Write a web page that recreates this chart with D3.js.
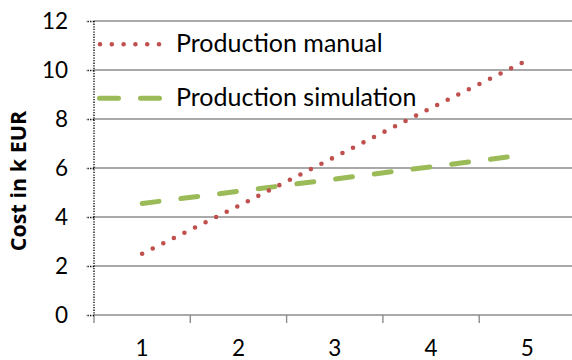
<!DOCTYPE html>
<html>
<head>
<meta charset="utf-8">
<script src="https://cdn.jsdelivr.net/npm/d3@7"></script>
<style>
  html, body { margin: 0; padding: 0; background: #fff; }
  svg { display: block; }
  text { font-family: Carlito, Calibri, Lato, sans-serif; fill: #000; }
</style>
</head>
<body>
<svg id="chart" width="572" height="360"></svg>
<script>
const categories = [1, 2, 3, 4, 5];
const manualValues = [2.5, 4.45, 6.45, 8.45, 10.4];
const simulationValues = [4.55, 5.05, 5.55, 6.05, 6.55];
const yTicks = [0, 2, 4, 6, 8, 10, 12];
const seriesNames = ["Production manual", "Production simulation"];
const yTitle = "Cost in k EUR";

(function () {
const svg = d3.select("#chart");
const mLeft = 94, mRight = 575.5, mTop = 21, mBottom = 315;
const tickFont = "Lato, sans-serif";

const x = d3.scaleBand().domain(categories).range([mLeft, mRight]);
const y = d3.scaleLinear().domain([0, 12]).range([mBottom, mTop]);

// gridlines
svg.append("g").selectAll("line").data(yTicks.filter(d => d > 0)).join("line")
  .attr("x1", mLeft).attr("x2", 572)
  .attr("y1", d => y(d)).attr("y2", d => y(d))
  .attr("stroke", "#8c8c8c").attr("stroke-width", 1.4);

// x axis
const xAxis = svg.append("g").attr("transform", `translate(0,${mBottom})`)
  .call(d3.axisBottom(x).tickSize(0).tickPadding(0));
xAxis.select(".domain").remove();
xAxis.selectAll(".tick text").attr("dy", null).attr("y", 41)
  .style("font-size", "22.5px").style("font-family", tickFont);
svg.append("line").attr("x1", mLeft).attr("x2", 572).attr("y1", mBottom).attr("y2", mBottom)
  .attr("stroke", "#8c8c8c").attr("stroke-width", 1.6);
const bounds = categories.map(c => x(c)).concat([x(categories[categories.length-1]) + x.bandwidth()]);
svg.append("g").selectAll("line").data(bounds).join("line")
  .attr("x1", d => d).attr("x2", d => d).attr("y1", mBottom).attr("y2", mBottom + 8)
  .attr("stroke", "#8c8c8c").attr("stroke-width", 1.4);

// y axis (dotted)
svg.append("line").attr("x1", mLeft).attr("x2", mLeft).attr("y1", mTop).attr("y2", mBottom)
  .attr("stroke", "#000").attr("stroke-width", 1.3).attr("stroke-dasharray", "1.3 1.3");
const yAxis = svg.append("g").attr("transform", `translate(${mLeft},0)`)
  .call(d3.axisLeft(y).tickValues(yTicks).tickSize(8).tickPadding(18));
yAxis.select(".domain").remove();
yAxis.selectAll(".tick line").attr("stroke", "#000").attr("stroke-width", 1.3).attr("stroke-dasharray", "1.3 1.3");
yAxis.selectAll(".tick text").style("font-size", "22.5px").style("font-family", tickFont);

// lines
const lineGen = d3.line().x((d, i) => x(categories[i]) + x.bandwidth() / 2).y(d => y(d));
svg.append("path").datum(simulationValues).attr("d", lineGen)
  .attr("fill", "none").attr("stroke", "#9BBB59").attr("stroke-width", 5)
  .attr("stroke-linecap", "round").attr("stroke-dasharray", "17 22");
svg.append("path").datum(manualValues).attr("d", lineGen)
  .attr("fill", "none").attr("stroke", "#C0504D").attr("stroke-width", 4.6)
  .attr("stroke-linecap", "round").attr("stroke-dasharray", "0 11.8");

// legend
const leg = svg.append("g");
leg.append("line").attr("x1", 100).attr("x2", 162).attr("y1", 44.3).attr("y2", 44.3)
  .attr("stroke", "#C0504D").attr("stroke-width", 4.6).attr("stroke-linecap", "round").attr("stroke-dasharray", "0 11.8");
leg.append("line").attr("x1", 99.5).attr("x2", 162).attr("y1", 98.3).attr("y2", 98.3)
  .attr("stroke", "#9BBB59").attr("stroke-width", 5).attr("stroke-linecap", "round").attr("stroke-dasharray", "19 22");
leg.append("text").attr("x", 176).attr("y", 52).style("font-size", "25px").style("font-family", tickFont).text(seriesNames[0]);
leg.append("text").attr("x", 176).attr("y", 106).style("font-size", "25px").style("font-family", tickFont).text(seriesNames[1]);

// y title
svg.append("text").attr("transform", "translate(26,181) rotate(-90)")
  .attr("text-anchor", "middle")
  .style("font-family", "'Open Sans', sans-serif")
  .style("font-size", "21.5px").style("font-weight", "bold")
  .text(yTitle);
})();
</script>
</body>
</html>
